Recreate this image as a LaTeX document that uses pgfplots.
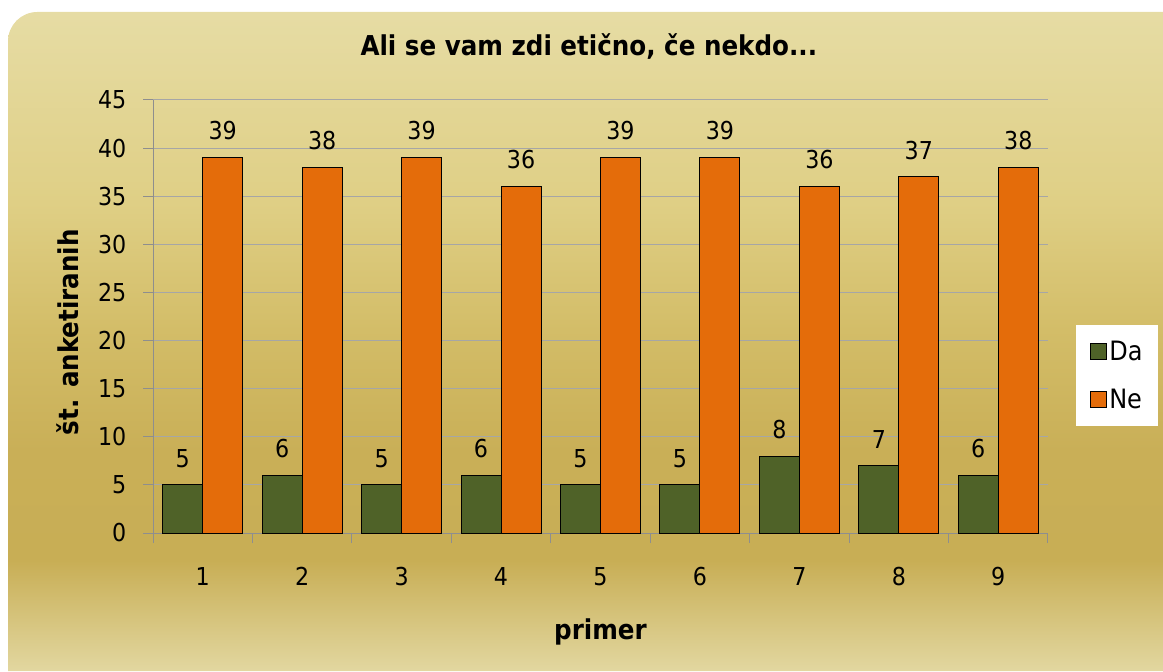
\documentclass[border=0pt]{standalone}
\usepackage{fontspec}
\setmainfont{DejaVu Sans Condensed}
\usepackage{pgfplots}
\pgfplotsset{compat=1.18}
\definecolor{dagreen}{HTML}{4F6228}
\definecolor{neorange}{HTML}{E46C0A}
\definecolor{gridgray}{HTML}{A6A6A6}
\definecolor{axgray}{HTML}{8E8E8E}
\definecolor{goldBot}{HTML}{E2D7A0}
\definecolor{goldDark}{HTML}{C8AE55}
\definecolor{goldDark2}{HTML}{C9AF57}
\definecolor{goldMid}{HTML}{D3BD68}
\definecolor{goldUp}{HTML}{DFCF85}
\definecolor{goldTop}{HTML}{E6DCA4}
\pgfdeclareverticalshading{goldbg}{100bp}{color(0bp)=(goldBot); color(25bp)=(goldBot); color(33.4bp)=(goldDark); color(41.7bp)=(goldDark2); color(50.9bp)=(goldMid); color(60.5bp)=(goldUp); color(75bp)=(goldTop); color(100bp)=(goldTop)}
\newcommand{\nfont}{\fontsize{18.5}{20}\selectfont}
\newcommand{\lfont}{\fontsize{20}{22}\selectfont}
\newcommand{\bfont}{\fontsize{20.5}{22}\selectfont\bfseries}
\begin{document}
\begin{tikzpicture}
\useasboundingbox (0,0) rectangle (872.25pt,503.25pt);
\shade[shading=goldbg] (6pt,0pt) [rounded corners=22pt] -- (6pt,494.25pt) -- (900pt,494.25pt) [sharp corners] -- (900pt,0pt) -- cycle;
\begin{axis}[
  at={(114.75pt,103.5pt)}, anchor=south west,
  scale only axis, width=671.25pt, height=324.75pt,
  ybar=0pt, bar width=30pt,
  xmin=0.5, xmax=9.5, ymin=0, ymax=45,
  enlargelimits=false,
  ytick={0,5,...,45},
  xtick={0.5,1.5,...,9.5}, x tick label as interval, xticklabels={1,2,3,4,5,6,7,8,9},
  tick align=outside, major tick length=7.5pt,
  tick style={axgray, line width=0.75pt},
  axis x line*=bottom, axis y line*=left,
  axis line style={axgray, line width=0.75pt, -},
  ymajorgrids, grid style={gridgray, line width=0.75pt},
  /pgf/number format/assume math mode=true,
  ticklabel style={font=\nfont, black},
  xticklabel style={yshift=-14.5pt},
  yticklabel style={xshift=-9pt},
  nodes near coords,
  every node near coord/.append style={font=\nfont, black, inner sep=0pt, anchor=south, yshift=12.75pt},
  title={Ali se vam zdi etično, če nekdo...},
  title style={font=\bfont, at={(rel axis cs:0.487,1.104)}, anchor=center},
  xlabel={primer},
  xlabel style={font=\bfont, at={(rel axis cs:0.5,-0.2286)}, anchor=center},
  ylabel={št. anketiranih},
  ylabel style={font=\bfont, at={(rel axis cs:-0.095,0.464)}, anchor=center, rotate=0},
  legend style={at={(rel axis cs:1.0313,0.4804)}, anchor=north west, draw=none, fill=white, font=\lfont, inner xsep=10pt, inner ysep=10pt, row sep=15.5pt, cells={anchor=west}},
  legend image code/.code={\draw[#1, line width=0.75pt] (0pt,-6pt) rectangle (12pt,6pt);},
]
\addplot[fill=dagreen, draw=black, line width=0.75pt] coordinates {(1,5) (2,6) (3,5) (4,6) (5,5) (6,5) (7,8) (8,7) (9,6)};
\addplot[fill=neorange, draw=black, line width=0.75pt] coordinates {(1,39) (2,38) (3,39) (4,36) (5,39) (6,39) (7,36) (8,37) (9,38)};
\legend{Da,Ne}
\end{axis}
\end{tikzpicture}
\end{document}
